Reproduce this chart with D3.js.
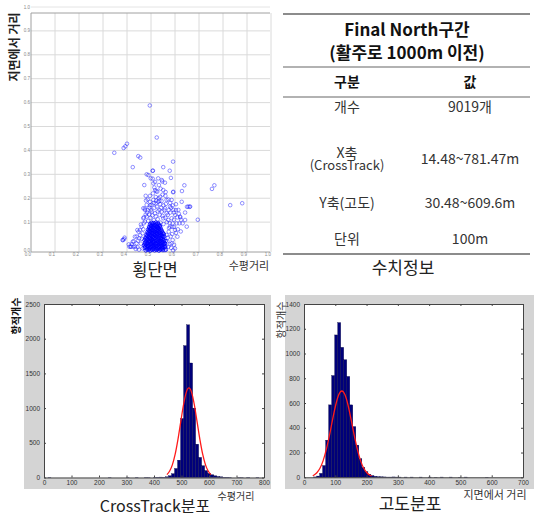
<!DOCTYPE html>
<html>
<head>
<meta charset="utf-8">
<script src="https://cdn.jsdelivr.net/npm/d3@7"></script>
<style>
  body { margin: 0; background: #fff; }
  text { font-family: "Noto Sans CJK KR", "Noto Sans", sans-serif; }
  .tick text, text.num { font-family: "Liberation Sans", Arial, sans-serif; }
</style>
</head>
<body>
<script>
// scatter (횡단면): [crossTrack m, height m]
const coreXY = [
  [478,-18],[489,-16],[497,-19],[506,-15],[515,-18],[524,-16],[533,-19],[541,-14],[550,-17],[562,-15],
  [474,-8],[484,-6],[493,-9],[501,-5],[510,-8],[519,-6],[528,-9],[537,-5],[546,-8],[556,-6],
  [471,3],[480,5],[490,2],[499,6],[507,3],[516,5],[525,1],[534,4],[543,2],[552,6],
  [476,14],[486,12],[495,16],[503,13],[512,15],[521,12],[530,16],[539,13],[548,15],[557,12],
  [473,25],[482,27],[491,23],[500,26],[509,24],[518,28],[527,25],[536,23],[545,27],[554,24],
  [478,36],[488,38],[497,34],[505,37],[514,35],[523,39],[532,36],[541,34],[550,38],
  [481,47],[490,49],[499,45],[508,48],[517,46],[526,50],[535,47],[544,45],[553,49],
  [485,58],[494,60],[503,56],[512,59],[521,57],[530,61],[539,58],[548,56],
  [488,69],[497,71],[506,67],[515,70],[524,68],[533,72],[542,69],
  [492,80],[501,82],[510,78],[519,81],[528,79],[537,83],
  [496,91],[505,93],[514,89],[523,92],[532,90]
];
const coreXY2 = [
  [483,-13],[493,-11],[502,-14],[511,-12],[520,-13],[529,-11],[538,-14],[547,-12],
  [476,-2],[488,0],[497,-3],[506,-1],[514,-2],[523,0],[532,-3],[541,-1],[550,-2],[559,0],
  [475,9],[485,10],[494,8],[503,9],[511,11],[520,8],[529,10],[538,9],[547,11],[556,8],
  [480,20],[490,19],[499,21],[508,18],[516,20],[525,22],[534,19],[543,20],[552,18],[561,21],
  [477,31],[486,30],[495,32],[504,29],[513,31],[522,33],[531,30],[540,31],[549,29],
  [483,42],[493,41],[502,43],[510,40],[519,42],[528,44],[537,41],[546,42],[555,40],
  [488,53],[497,52],[506,54],[515,51],[524,53],[533,55],[542,52],[551,53],
  [491,64],[500,63],[509,65],[518,62],[527,64],[536,66],[545,63],
  [494,75],[503,74],[512,76],[521,73],[530,75],[539,77],
  [499,86],[508,85],[517,87],[526,84],[535,86],
  [502,97],[511,96],[520,98],[529,95]
];
const haloXY = [
  [388,29],[382,25],[424,18],[410,-3],[417,-3],[433,-3],[440,11],[451,32],[465,53],[461,81],
  [468,116],[475,151],[482,172],[496,185],[510,193],[530,185],[538,206],[526,227],[517,234],[533,255],
  [510,262],[499,283],[489,297],[507,315],[530,283],[545,276],[551,234],[565,193],[579,165],[593,151],
  [614,151],[621,123],[607,95],[600,67],[610,39],[586,11],[572,-3],[558,-17],[565,46],[579,81],
  [551,116],[545,144],[642,109],[649,81],[655,165],[663,165],[628,185],[586,193],[593,227],[454,67],
  [433,39],[443,67],[468,158],[482,123],[475,102],[503,144],[524,165],[517,137],[535,151],[558,158],
  [565,137],[572,109],[586,116],[600,130],[470,95],[488,105],[498,118],[512,108],[528,112],[540,98],
  [552,92],[566,100],[578,96],[492,132],[506,128],[520,124],[536,130],[548,126],[560,118],[500,150],
  [514,160],[528,145],[542,160],[556,150],[484,140],[496,170],[520,178],[538,175],[570,130],[588,80],
  [596,110],[610,120],[574,60],[582,40],[590,25],[596,5],[560,-5],[568,20],[575,75],[462,30],
  [458,10],[465,-10],[450,-15],[444,-5],[455,45],[468,70],[580,140],
  [470,120],[478,132],[486,150],[494,160],[502,172],[512,180],[522,190],[532,200],[544,188],[552,170],
  [562,176],[574,150],[584,160],[596,140],[604,150],[616,135],[590,95],[596,80],[604,55],[612,70],
  [618,95],[625,110],[632,95],[458,90],[448,60],[440,40],[428,20],[436,-12],[420,8],[446,22],
  [600,-10],[592,-18],[584,-8],[578,8],[570,35],[588,50],[520,205],[508,220],[496,210],[486,195],
  [478,210],[514,245],[540,240],[548,215],[560,210],[572,195],[580,180],[590,170],[604,175]
];
const outlierXY = [
  [495,588],[524,454],[347,390],[386,410],[393,417],[400,428],[447,376],[455,370],[424,330],[551,330],
  [592,353],[578,315],[583,285],[482,300],[508,315],[472,255],[639,254],[629,230],[592,225],[754,239],
  [764,254],[830,171],[880,179],[695,110],[661,164],[650,164],[642,140],[622,120],[624,61],[390,35],
  [383,25],[415,-3],[426,-3],[407,7],[474,157],[479,190],[517,268],[507,282],[547,270],[558,265],
  [522,230],[561,226],[535,189]
];
const scatterTicks = [0, 100, 200, 300, 400, 500, 600, 700, 800, 900, 1000];

// CrossTrack 분포 histogram: bin starts (m) and counts
const crossStart = [14.5, 233.6, 299.4, 332.2, 365.1, 376.1, 398.0, 409.0, 419.9, 430.9, 441.8, 452.8,
  463.7, 474.7, 485.6, 496.6, 507.5, 518.5, 529.5, 540.4, 551.4, 562.3, 573.3, 584.2, 595.2, 606.2,
  617.1, 628.1, 639.0, 650.0, 660.9, 671.9, 704.8, 715.7, 737.6, 770.5];
const crossCount = [3, 2, 2, 3, 3, 2, 4, 5, 6, 5, 10, 25,
  55, 130, 250, 850, 1900, 2200, 1650, 1000, 480, 290, 170, 100, 60, 40,
  25, 15, 10, 5, 5, 3, 2, 2, 3, 3];
const crossFitX = [447, 457, 467, 477, 487, 497, 507, 517, 527, 537, 547, 557, 567, 577, 587, 597, 607];
const crossFitY = [41, 93, 186, 336, 546, 795, 1041, 1223, 1290, 1223, 1041, 795, 546, 336, 186, 93, 41];

// 고도분포 histogram
const altStart = [30.5, 40.1, 49.8, 59.4, 69.1, 78.7, 88.4, 98.0, 107.7, 117.3, 127.0, 136.7, 146.3,
  156.0, 165.6, 175.3, 184.9, 194.6, 204.2, 213.9, 223.5, 233.2, 242.8, 252.5, 262.1, 271.8, 281.4,
  291.1, 300.7, 320.0, 339.3, 368.3, 397.2, 416.6, 435.9, 464.8, 493.8, 513.1, 580.6];
const altCount = [3, 10, 32, 95, 300, 585, 822, 1150, 1250, 1050, 950, 815, 585,
  410, 260, 150, 80, 45, 25, 14, 8, 5, 4, 3, 2, 2, 3,
  2, 2, 2, 2, 2, 2, 1, 2, 2, 1, 2, 1];
const altFitX = [28, 31, 41, 51, 61, 71, 81, 91, 101, 111, 121, 131, 141, 151, 161, 171, 181, 191, 201, 211, 216];
const altFitY = [13, 17, 37, 73, 133, 221, 334, 461, 580, 666, 697, 666, 580, 461, 334, 221, 133, 73, 37, 17, 11];

// 수치정보 table
const tableRows = [
  { label: ["개수"], value: "9019개" },
  { label: ["X축", "(CrossTrack)"], value: "14.48~781.47m" },
  { label: ["Y축(고도)"], value: "30.48~609.6m" },
  { label: ["단위"], value: "100m" }
];

const svg = d3.select("body").append("svg").attr("width", 534).attr("height", 517);

// ---------- scatter ----------
const sx = d3.scaleLinear().domain([0, 1000]).range([31, 271]);
const sy = d3.scaleLinear().domain([-25, 1000]).range([252, 7]);
const sc = svg.append("g");

sc.append("line").attr("x1", 31).attr("x2", 270).attr("y1", sy(1000)).attr("y2", sy(1000))
  .attr("stroke", "#e4e4e4");
sc.selectAll("line.hg").data(scatterTicks.slice(1, 10)).join("line")
  .attr("x1", 31).attr("x2", 270).attr("y1", d => sy(d)).attr("y2", d => sy(d))
  .attr("stroke", "#dadada");
sc.selectAll("line.vg").data(scatterTicks.slice(1)).join("line")
  .attr("x1", d => sx(d)).attr("x2", d => sx(d)).attr("y1", 13).attr("y2", 252)
  .attr("stroke", "#dadada");
sc.append("line").attr("x1", 31).attr("x2", 270).attr("y1", 13).attr("y2", 13).attr("stroke", "#a0a0a0");
sc.append("line").attr("x1", 31).attr("x2", 31).attr("y1", 13).attr("y2", 252).attr("stroke", "#a0a0a0");
sc.append("line").attr("x1", 31).attr("x2", 270).attr("y1", 252).attr("y2", 252).attr("stroke", "#a0a0a0");

sc.selectAll("text.yl").data(scatterTicks).join("text").attr("class", "num")
  .attr("x", 27).attr("y", d => d === 0 ? 250 : sy(d)).attr("dy", "0.35em")
  .attr("text-anchor", "middle").attr("font-size", 4.5).attr("fill", "#888")
  .text(d => (d / 1000).toFixed(1));
sc.selectAll("text.xl").data(scatterTicks).join("text").attr("class", "num")
  .attr("x", d => sx(d) - 3).attr("y", 254.5).attr("dy", "0.35em")
  .attr("text-anchor", "middle").attr("font-size", 4.5).attr("fill", "#888")
  .text(d => (d / 1000).toFixed(1));

sc.selectAll("circle.halo").data(haloXY.concat(outlierXY)).join("circle")
  .attr("cx", d => sx(d[0])).attr("cy", d => sy(d[1])).attr("r", 1.8)
  .attr("fill", "none").attr("stroke", "#1a1aff").attr("stroke-opacity", 0.6).attr("stroke-width", 0.8);
sc.selectAll("circle.core").data(coreXY.concat(coreXY2)).join("circle")
  .attr("cx", d => sx(d[0])).attr("cy", d => sy(d[1])).attr("r", 1.8)
  .attr("fill", "none").attr("stroke", "#0000ff").attr("stroke-opacity", 0.85).attr("stroke-width", 0.9);

sc.append("text").attr("transform", "translate(15,47) rotate(-90)")
  .attr("text-anchor", "middle").attr("dy", "0.35em")
  .attr("font-size", 12).attr("font-weight", "bold").attr("fill", "#222").text("지면에서 거리");
svg.append("text").attr("x", 155).attr("y", 276).attr("text-anchor", "middle")
  .attr("font-size", 16.5).attr("fill", "#222").text("횡단면");
svg.append("text").attr("x", 249).attr("y", 266).attr("dy", "0.35em").attr("text-anchor", "middle")
  .attr("font-size", 11).attr("fill", "#333").text("수평거리");

// ---------- table ----------
const tb = svg.append("g");
[14, 67, 97, 254].forEach(yy => {
  tb.append("line").attr("x1", 283).attr("x2", 530).attr("y1", yy).attr("y2", yy)
    .attr("stroke", "#666").attr("stroke-width", yy === 14 || yy === 254 ? 1.6 : 1.2);
});
tb.append("text").attr("x", 407).attr("y", 30).attr("dy", "0.35em").attr("text-anchor", "middle")
  .attr("font-size", 17).attr("font-weight", "bold").attr("fill", "#111").text("Final North구간");
tb.append("text").attr("x", 407).attr("y", 53).attr("dy", "0.35em").attr("text-anchor", "middle")
  .attr("font-size", 17).attr("font-weight", "bold").attr("fill", "#111").text("(활주로 1000m 이전)");
tb.append("text").attr("x", 347).attr("y", 82).attr("dy", "0.35em").attr("text-anchor", "middle")
  .attr("font-size", 14).attr("font-weight", "bold").attr("fill", "#111").text("구분");
tb.append("text").attr("x", 470).attr("y", 82).attr("dy", "0.35em").attr("text-anchor", "middle")
  .attr("font-size", 14).attr("font-weight", "bold").attr("fill", "#111").text("값");

const rowY = [107, 159, 203, 239];
tableRows.forEach((r, i) => {
  const lines = r.label;
  const lt = tb.append("text").attr("text-anchor", "middle").attr("fill", "#333");
  lines.forEach((t, j) => {
    lt.append("tspan").attr("x", 347).attr("y", rowY[i] + (j - (lines.length - 1) / 2) * 12.5)
      .attr("dy", "0.35em").attr("font-size", j === 0 ? 14 : 13).text(t);
  });
  tb.append("text").attr("x", 470).attr("y", rowY[i]).attr("dy", "0.35em").attr("text-anchor", "middle")
    .attr("font-size", 14).attr("fill", "#333").text(r.value);
});
svg.append("text").attr("x", 403).attr("y", 268).attr("dy", "0.35em").attr("text-anchor", "middle")
  .attr("font-size", 17).attr("fill", "#222").text("수치정보");

// ---------- histograms ----------
function drawHist(cfg) {
  const x = d3.scaleLinear().domain(cfg.xDomain).range([cfg.left, cfg.right]);
  const y = d3.scaleLinear().domain(cfg.yDomain).range([cfg.bottom, cfg.top]);
  const g = svg.append("g");
  g.append("rect").attr("x", cfg.panel[0]).attr("y", cfg.panel[1])
    .attr("width", cfg.panel[2]).attr("height", cfg.panel[3]).attr("fill", "#d4d4d4");
  g.append("rect").attr("x", cfg.left).attr("y", cfg.top)
    .attr("width", cfg.right - cfg.left).attr("height", cfg.bottom - cfg.top).attr("fill", "#fff");

  const bins = cfg.starts.map((s, i) => ({ x0: s, n: cfg.counts[i] }));
  g.selectAll("rect.bar").data(bins).join("rect")
    .attr("x", d => x(d.x0)).attr("width", d => x(d.x0 + cfg.binWidth) - x(d.x0))
    .attr("y", d => y(d.n)).attr("height", d => y(0) - y(d.n))
    .attr("fill", "#00007a").attr("stroke", "#000033").attr("stroke-width", 0.3);

  const fit = cfg.fitX.map((v, i) => [v, cfg.fitY[i]]);
  g.append("path").datum(fit)
    .attr("d", d3.line().x(d => x(d[0])).y(d => y(d[1])).curve(d3.curveMonotoneX))
    .attr("fill", "none").attr("stroke", "#ff1a1a").attr("stroke-width", 1.3);

  const styleAxis = a => {
    a.select(".domain").attr("stroke", "#444");
    a.selectAll(".tick line").attr("stroke", "#444");
    a.selectAll(".tick text").attr("font-size", 6.5).attr("fill", "#333");
  };
  g.append("g").attr("transform", `translate(0,${cfg.bottom})`)
    .call(d3.axisBottom(x).tickValues(cfg.xTicks).tickSizeInner(-2).tickSizeOuter(0).tickPadding(3).tickFormat(d3.format("d")))
    .call(styleAxis);
  g.append("g").attr("transform", `translate(0,${cfg.top})`)
    .call(d3.axisTop(x).tickValues(cfg.xTicks).tickSizeInner(-2).tickSizeOuter(0).tickFormat(""))
    .call(styleAxis);
  g.append("g").attr("transform", `translate(${cfg.left},0)`)
    .call(d3.axisLeft(y).tickValues(cfg.yTicks).tickSizeInner(-2).tickSizeOuter(0).tickPadding(4).tickFormat(d3.format("d")))
    .call(styleAxis);
  g.append("g").attr("transform", `translate(${cfg.right},0)`)
    .call(d3.axisRight(y).tickValues(cfg.yTicks).tickSizeInner(-2).tickSizeOuter(0).tickFormat(""))
    .call(styleAxis);
}

drawHist({
  panel: [24, 295, 247, 194], left: 44, right: 264, top: 304, bottom: 477.5,
  xDomain: [0, 800], yDomain: [0, 2500], binWidth: 10.96,
  xTicks: d3.range(0, 801, 100), yTicks: d3.range(0, 2501, 500),
  starts: crossStart, counts: crossCount, fitX: crossFitX, fitY: crossFitY
});
drawHist({
  panel: [285, 295, 249, 194], left: 304, right: 523, top: 304, bottom: 477.3,
  xDomain: [0, 700], yDomain: [0, 1400], binWidth: 9.65,
  xTicks: d3.range(0, 701, 100), yTicks: d3.range(0, 1401, 200),
  starts: altStart, counts: altCount, fitX: altFitX, fitY: altFitY
});

svg.append("text").attr("transform", "translate(16,316) rotate(-90)").attr("text-anchor", "middle")
  .attr("dy", "0.35em").attr("font-size", 10).attr("font-weight", "bold").attr("fill", "#111").text("항적개수");
svg.append("text").attr("transform", "translate(281,320) rotate(-90)").attr("text-anchor", "middle")
  .attr("dy", "0.35em").attr("font-size", 10).attr("fill", "#333").text("항적개수");
svg.append("text").attr("x", 236).attr("y", 496).attr("dy", "0.35em").attr("text-anchor", "middle")
  .attr("font-size", 10).attr("fill", "#333").text("수평거리");
svg.append("text").attr("x", 155).attr("y", 506).attr("dy", "0.35em").attr("text-anchor", "middle")
  .attr("font-size", 16).attr("fill", "#222").text("CrossTrack분포");
svg.append("text").attr("x", 495).attr("y", 495).attr("dy", "0.35em").attr("text-anchor", "middle")
  .attr("font-size", 11).attr("fill", "#333").text("지면에서 거리");
svg.append("text").attr("x", 410).attr("y", 504).attr("dy", "0.35em").attr("text-anchor", "middle")
  .attr("font-size", 17).attr("fill", "#222").text("고도분포");
</script>
</body>
</html>
